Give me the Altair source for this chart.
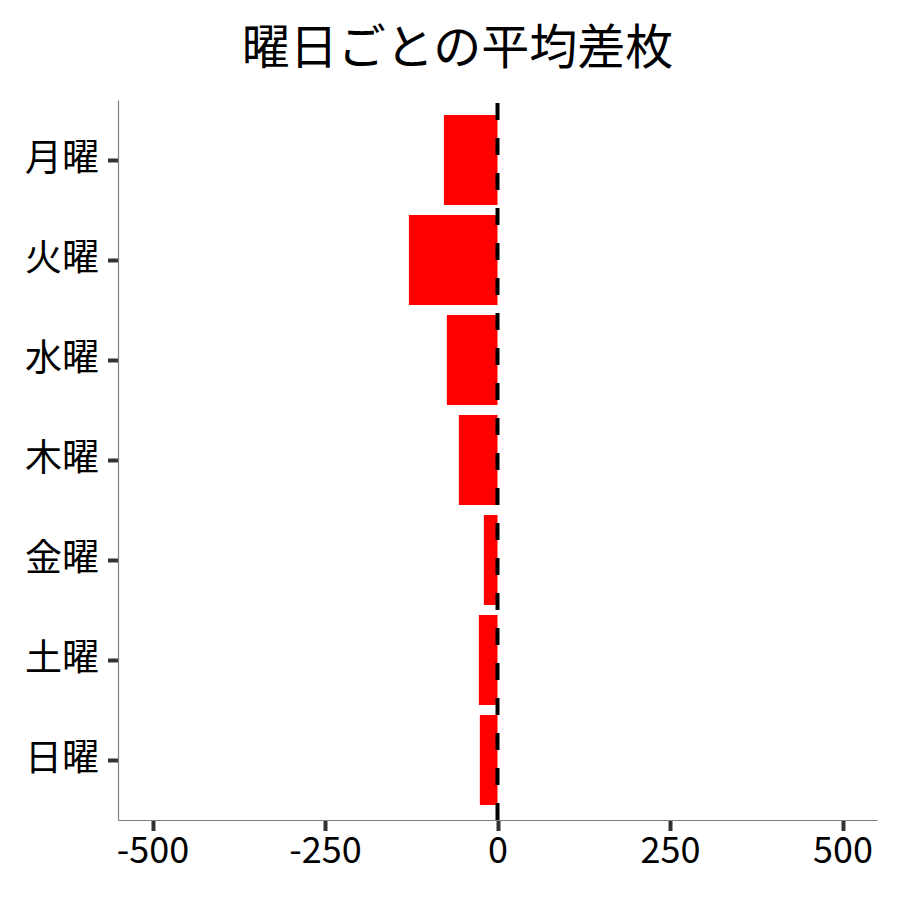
import altair as alt
import pandas as pd

days = ["月曜", "火曜", "水曜", "木曜", "金曜", "土曜", "日曜"]
avg_diff = [-77.7, -128.4, -73.4, -56.0, -19.8, -27.0, -25.6]
x_ticks = [-500, -250, 0, 250, 500]
title_text = "曜日ごとの平均差枚"

df = pd.DataFrame({"day": days, "diff": avg_diff})

FONT = "Noto Sans CJK JP"
W, H = 759, 720

bars = alt.Chart(df).mark_bar(color="#FF0000").encode(
    x=alt.X(
        "diff:Q",
        scale=alt.Scale(domain=[-550, 550], nice=False, zero=False),
        axis=alt.Axis(
            values=x_ticks,
            title=None,
            grid=False,
            labelFontSize=36,
            labelFont=FONT,
            labelColor="black",
            labelExpr="'' + datum.value",
            tickColor="#333333",
            tickWidth=4,
            tickSize=10.5,
            labelPadding=4,
            domainColor="#7f7f7f",
            domainWidth=1.2,
            labelFlush=False,
        ),
    ),
    y=alt.Y(
        "day:N",
        sort=days,
        scale=alt.Scale(paddingInner=0.1, paddingOuter=0.15),
        axis=alt.Axis(
            title=None,
            grid=False,
            labelFontSize=37,
            labelFont=FONT,
            labelColor="black",
            tickColor="#333333",
            tickWidth=4,
            tickSize=10.5,
            labelPadding=9,
            domainColor="#7f7f7f",
            domainWidth=1.2,
        ),
    ),
)

zero_line = alt.Chart(pd.DataFrame({"z": [0]})).mark_rule(
    color="black", strokeWidth=4, strokeDash=[17, 18]
).encode(
    x="z:Q",
    y=alt.value(H),
    y2=alt.value(0),
)

chart = (
    alt.layer(bars, zero_line)
    .properties(
        width=W,
        height=H,
        autosize=alt.AutoSizeParams(type="none"),
        padding={"left": 110, "top": 92, "right": 15, "bottom": 72},
        title=alt.TitleParams(
            text=title_text,
            font=FONT,
            fontSize=48,
            fontWeight="normal",
            color="black",
            anchor="middle",
            dx=-40,
            offset=24,
        ),
    )
    .configure_view(stroke=None)
)

chart.save("out.html", embed_options={"renderer": "svg", "actions": False})
